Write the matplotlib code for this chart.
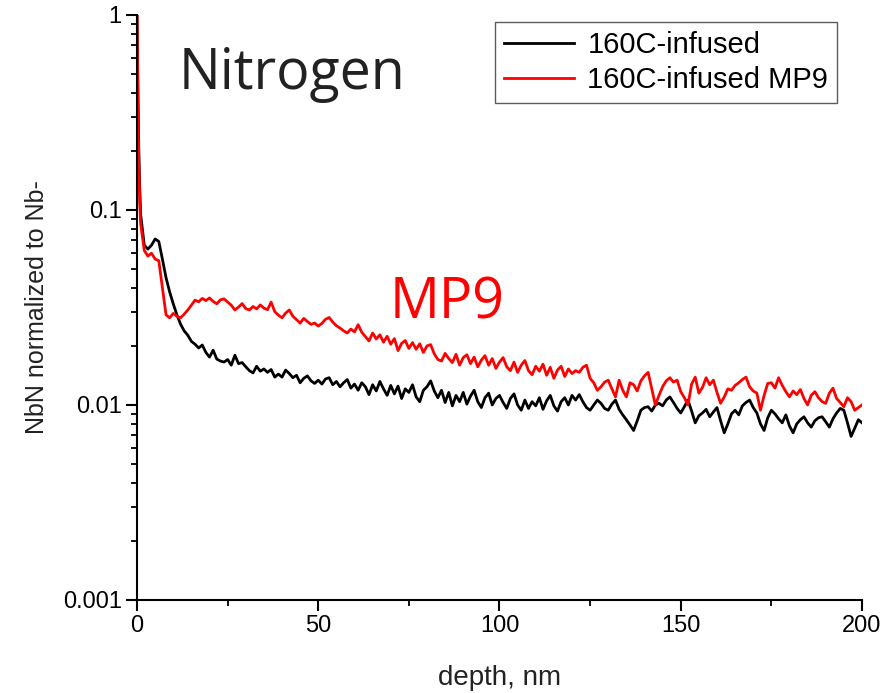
import matplotlib
matplotlib.use("Agg")
import matplotlib.pyplot as plt
from matplotlib.ticker import FixedLocator, FixedFormatter, LogLocator, NullFormatter, MultipleLocator

# depth in nm
depth = [0, 0.25, 0.5, 0.75] + list(range(1, 201))

n_infused = [
    1.0, 0.40, 0.20, 0.13,
    0.095, 0.066, 0.063, 0.066, 0.071, 0.069, 0.056, 0.045, 0.038, 0.033,
    0.029, 0.026, 0.024, 0.0228, 0.0212, 0.0205, 0.0196, 0.0203, 0.0186, 0.0176,
    0.0191, 0.0172, 0.0168, 0.0166, 0.0171, 0.0160, 0.0180, 0.0163, 0.0165, 0.0157,
    0.0150, 0.0146, 0.0158, 0.0149, 0.0153, 0.0147, 0.0152, 0.0139, 0.0144, 0.0139,
    0.0151, 0.0145, 0.0138, 0.0142, 0.0130, 0.0137, 0.0141, 0.0133, 0.0129, 0.0134,
    0.0128, 0.0136, 0.0138, 0.0127, 0.0132, 0.0124, 0.0130, 0.0135, 0.0122, 0.0128,
    0.0119, 0.0130, 0.0124, 0.0113, 0.0127, 0.0118, 0.0132, 0.0121, 0.0112, 0.0126,
    0.0114, 0.0125, 0.0108, 0.0121, 0.0116, 0.0127, 0.0110, 0.0104, 0.0119, 0.0124,
    0.0133, 0.0118, 0.0109, 0.0119, 0.0103, 0.0116, 0.0099, 0.0112, 0.0104, 0.0116,
    0.0101, 0.0111, 0.0119, 0.0104, 0.0097, 0.0109, 0.0115, 0.0100, 0.0108, 0.0112,
    0.0103, 0.0096, 0.0108, 0.0114, 0.0100, 0.0094, 0.0106, 0.0096, 0.0104, 0.0099,
    0.0109, 0.0095, 0.0105, 0.0112, 0.0099, 0.0093, 0.0104, 0.0109, 0.0100, 0.0112,
    0.0106, 0.0113, 0.0104, 0.0097, 0.0094, 0.0100, 0.0106, 0.0102, 0.0096, 0.0094,
    0.0101, 0.0106, 0.0095, 0.0089, 0.0084, 0.0079, 0.0074, 0.0083, 0.0094, 0.0097,
    0.0098, 0.0093, 0.0100, 0.0102, 0.0099, 0.0106, 0.0110, 0.0103, 0.0096, 0.0091,
    0.0098, 0.0106, 0.0093, 0.0081, 0.0088, 0.0091, 0.0095, 0.0087, 0.0092, 0.0097,
    0.0083, 0.0072, 0.0080, 0.0090, 0.0094, 0.0089, 0.0099, 0.0103, 0.0106, 0.0097,
    0.0091, 0.0080, 0.0074, 0.0086, 0.0094, 0.0090, 0.0085, 0.0081, 0.0089, 0.0078,
    0.0072, 0.0080, 0.0084, 0.0087, 0.0081, 0.0077, 0.0083, 0.0086, 0.0087, 0.0082,
    0.0077, 0.0085, 0.0091, 0.0096, 0.0094, 0.0081, 0.0069, 0.0076, 0.0084, 0.0081,
]

n_mp9 = [
    1.0, 0.35, 0.17, 0.11,
    0.085, 0.062, 0.058, 0.060, 0.056, 0.055, 0.040, 0.029, 0.028, 0.0295,
    0.0285, 0.028, 0.0292, 0.0307, 0.0325, 0.0345, 0.0338, 0.0352, 0.0343, 0.0354,
    0.0340, 0.0330, 0.0346, 0.0350, 0.0337, 0.0325, 0.0307, 0.0318, 0.0331, 0.0312,
    0.0307, 0.0320, 0.0311, 0.0326, 0.0314, 0.0308, 0.0337, 0.0301, 0.0289, 0.0280,
    0.0296, 0.0307, 0.0285, 0.0274, 0.0263, 0.0278, 0.0268, 0.0259, 0.0263, 0.0254,
    0.0262, 0.0275, 0.0281, 0.0266, 0.0255, 0.0248, 0.0240, 0.0234, 0.0245, 0.0237,
    0.0258, 0.0236, 0.0224, 0.0213, 0.0234, 0.0218, 0.0229, 0.0210, 0.0225, 0.0205,
    0.0219, 0.0190, 0.0207, 0.0214, 0.0195, 0.0209, 0.0193, 0.0206, 0.0186, 0.0201,
    0.0204, 0.0183, 0.0171, 0.0168, 0.0184, 0.0173, 0.0165, 0.0182, 0.0160, 0.0175,
    0.0181, 0.0163, 0.0176, 0.0157, 0.0170, 0.0179, 0.0160, 0.0173, 0.0154, 0.0166,
    0.0175, 0.0157, 0.0150, 0.0166, 0.0147, 0.0160, 0.0169, 0.0150, 0.0143, 0.0158,
    0.0149, 0.0162, 0.0142, 0.0156, 0.0137, 0.0151, 0.0158, 0.0140, 0.0153, 0.0145,
    0.0150, 0.0147, 0.0156, 0.0160, 0.0137, 0.0130, 0.0119, 0.0124, 0.0131, 0.0134,
    0.0121, 0.0110, 0.0134, 0.0119, 0.0110, 0.0130, 0.0127, 0.0118, 0.0133, 0.0141,
    0.0147, 0.0121, 0.0100, 0.0112, 0.0124, 0.0133, 0.0138, 0.0131, 0.0134, 0.0117,
    0.0109, 0.0100, 0.0128, 0.0139, 0.0115, 0.0123, 0.0138, 0.0127, 0.0134, 0.0116,
    0.0102, 0.0110, 0.0121, 0.0119, 0.0126, 0.0130, 0.0135, 0.0139, 0.0124, 0.0118,
    0.0115, 0.0094, 0.0112, 0.0129, 0.0130, 0.0122, 0.0138, 0.0126, 0.0117, 0.0110,
    0.0118, 0.0113, 0.0120, 0.0108, 0.0100, 0.0112, 0.0117, 0.0109, 0.0104, 0.0102,
    0.0115, 0.0122, 0.0108, 0.0103, 0.0098, 0.0109, 0.0104, 0.0094, 0.0097, 0.0100,
]

y_ticks = [0.001, 0.01, 0.1, 1]
y_labels = ["0.001", "0.01", "0.1", "1"]

plt.rcParams['font.family'] = ['Liberation Sans', 'DejaVu Sans']

fig = plt.figure(figsize=(8.95, 6.93), dpi=100)
ax = fig.add_axes([0.1531, 0.1342, 0.81, 0.8442])

ax.plot(depth, n_infused, color="black", lw=2.0, label="160C-infused")
ax.plot(depth, n_mp9, color="red", lw=2.0, label="160C-infused MP9")

ax.set_yscale("log")
ax.set_xlim(0, 200)
ax.set_ylim(0.001, 1)

ax.yaxis.set_major_locator(FixedLocator(y_ticks))
ax.yaxis.set_major_formatter(FixedFormatter(y_labels))
ax.yaxis.set_minor_locator(LogLocator(base=10, subs=range(2, 10)))
ax.yaxis.set_minor_formatter(NullFormatter())
ax.xaxis.set_major_locator(MultipleLocator(50))
ax.xaxis.set_minor_locator(MultipleLocator(25))

for s in ["top", "right"]:
    ax.spines[s].set_visible(False)
for s in ["left", "bottom"]:
    ax.spines[s].set_linewidth(1.5)

ax.tick_params(which="major", direction="out", length=8, width=1.5, labelsize=17, pad=3)
ax.tick_params(which="minor", direction="out", length=4, width=1.3)

ax.set_xlabel("depth, nm", fontsize=20, color="#222222", labelpad=20)
ax.set_ylabel("NbN normalized to Nb-", fontsize=18, color="#222222", labelpad=10)

leg = ax.legend(loc="upper right", bbox_to_anchor=(0.9655, 0.988), borderaxespad=0,
                fontsize=21, frameon=True, fancybox=False, handlelength=2.4,
                borderpad=0.3, labelspacing=0.25, handletextpad=0.45)
leg.get_frame().set_edgecolor("#333333")
leg.get_frame().set_linewidth(1.0)

fig.text(0.326, 0.892, "Nitrogen", fontsize=40, family="Open Sans", color="#222222",
         ha="center", va="center")
fig.text(0.5, 0.562, "MP9", fontsize=40, family="Open Sans", color="red",
         ha="center", va="center")

fig.savefig("out.png", dpi=100)
